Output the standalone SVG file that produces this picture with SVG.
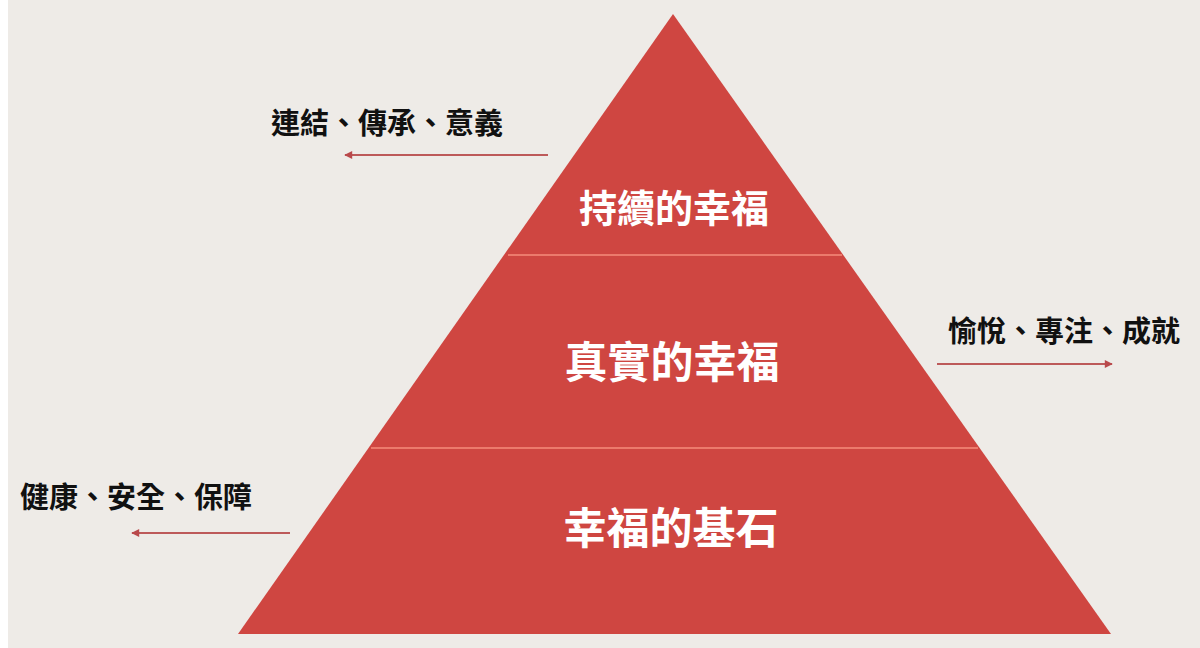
<svg xmlns="http://www.w3.org/2000/svg" width="1200" height="648" viewBox="0 0 1200 648">
  <defs>
    <style>
      .lbl { font-family: "Noto Sans CJK TC", "Noto Sans CJK SC", sans-serif; font-weight: 700; font-size: 29px; fill: #111111; }
      .lvl { font-family: "Noto Sans CJK TC", "Noto Sans CJK SC", sans-serif; font-weight: 700; fill: #ffffff; text-anchor: middle; }
      .div { stroke: #ec7a6c; stroke-width: 2; }
      .arr { stroke: #bd5a5a; stroke-width: 2; fill: none; marker-end: url(#ah); }
    </style>
    <marker id="ah" viewBox="0 0 10 10" refX="9" refY="5" markerWidth="9" markerHeight="8" markerUnits="userSpaceOnUse" orient="auto">
      <path d="M0,0 L10,5 L0,10 z" fill="#b9494b"/>
    </marker>
  </defs>
  <rect x="0" y="0" width="1200" height="648" fill="#eeebe7"/>
  <rect x="0" y="0" width="8" height="648" fill="#ffffff"/>

  <g id="pyramid">
    <polygon points="673,14 1111,634 238,634" fill="#cf4641"/>
    <line class="div" x1="508" y1="255" x2="842" y2="255"/>
    <line class="div" x1="371" y1="448" x2="978" y2="448"/>
  </g>

  <g id="level-top">
    <text class="lvl" x="674" y="222" font-size="38">持續的幸福</text>
  </g>
  <g id="level-middle">
    <text class="lvl" x="672" y="378" font-size="43">真實的幸福</text>
  </g>
  <g id="level-bottom">
    <text class="lvl" x="671" y="544" font-size="43">幸福的基石</text>
  </g>

  <g id="label-top">
    <text class="lbl" x="271" y="134">連結、傳承、意義</text>
  </g>
  <g id="label-middle">
    <text class="lbl" x="948" y="342">愉悅、專注、成就</text>
  </g>
  <g id="label-bottom">
    <text class="lbl" x="20" y="508">健康、安全、保障</text>
  </g>

  <g id="connectors">
    <line class="arr" x1="548" y1="155" x2="345" y2="155"/>
    <line class="arr" x1="937" y1="364" x2="1112" y2="364"/>
    <line class="arr" x1="290" y1="533" x2="132" y2="533"/>
  </g>
</svg>
